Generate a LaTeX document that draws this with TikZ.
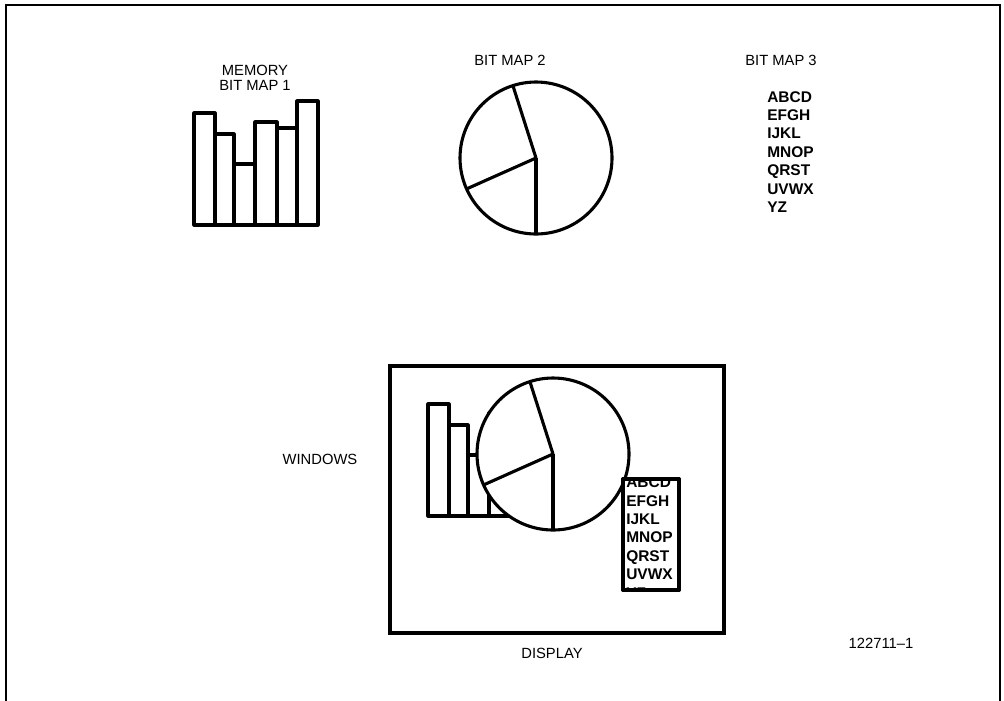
\documentclass[tikz,border=0pt]{standalone}
\usepackage{fontspec}
\setmainfont{Liberation Sans}
\usetikzlibrary{positioning}
\tikzset{
  frameline/.style={line width=1.4pt},
  chartline/.style={line width=2.2pt, line join=round},
  screenline/.style={line width=2.8pt},
  caption/.style={font=\fontsize{10.5}{10.5}\selectfont, align=center, inner sep=0pt},
  letters/.style={font=\fontsize{11}{13}\selectfont\bfseries, inner sep=0pt, anchor=base west},
}
% bar chart, tops of the six bars (pixel rows), bottom at 225
\newcommand{\barchart}{%
  \foreach \xa/\xb/\top in {194/215/113,215/234/134,234/255/164,255/277/122,277/297/128,297/318/101}
    \draw[chartline, fill=white] (\xa,225) rectangle (\xb,\top);}
% pie chart round (0,0); y runs downwards, so angles are negative
\newcommand{\piechart}{%
  \draw[chartline, fill=white] (0,0) circle[radius=76];
  \draw[chartline] (-107.7:76) -- (0,0) -- (-204:76);
  \draw[chartline] (0,0) -- (-270:76);}

\begin{document}
\begin{tikzpicture}[x=0.025cm, y=-0.025cm]
  \useasboundingbox (0,0) rectangle (1004,700);

  % --- outer frame ---
  \draw[frameline] (6,702) -- (6,5) -- (1000,5) -- (1000,702);

  % --- memory bit maps ---
  \node (mem1) [caption] at (255,78) {MEMORY\\BIT MAP 1};
  \barchart

  \node (mem2) [caption] at (510,60) {BIT MAP 2};
  \begin{scope}[shift={(536,158)}]
    \piechart
  \end{scope}

  \node (mem3) [caption] at (781,60) {BIT MAP 3};
  \foreach \txt [count=\i] in {ABCD,EFGH,IJKL,MNOP,QRST,UVWX,YZ}
    \node (bm3-\i) [letters] at (767,{102+18.4*(\i-1)}) {\txt};

  % --- display with windows ---
  \draw[screenline] (390,366) rectangle (724,633);
  \begin{scope}[shift={(234,291)}]
    \barchart
  \end{scope}
  \begin{scope}[shift={(553,454)}]
    \piechart
  \end{scope}
  \draw[chartline, fill=white] (623,479) rectangle (679,590);
  \begin{scope}
    \clip (623,479) rectangle (679,590);
    \foreach \txt [count=\i] in {ABCD,EFGH,IJKL,MNOP,QRST,UVWX,YZ}
      \node (win3-\i) [letters] at (626,{487.6+18.4*(\i-1)}) {\txt};
  \end{scope}
  \draw[chartline] (623,479) rectangle (679,590);

  % --- labels ---
  \node (windows) [caption] at (320,459) {WINDOWS};
  \node (display) [caption] at (552,653) {DISPLAY};
  \node (fignum)  [caption] at (881,643) {122711--1};
\end{tikzpicture}
\end{document}
